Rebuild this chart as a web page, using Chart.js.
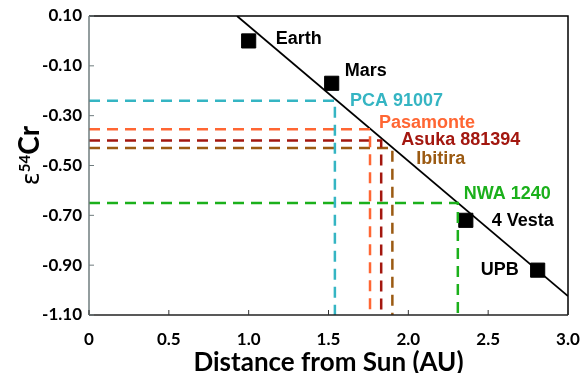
<!DOCTYPE html>
<html>
<head>
<meta charset="utf-8">
<script src="https://cdn.jsdelivr.net/npm/chart.js@4"></script>
<style>
  html, body { margin: 0; padding: 0; background: #fff; }
  #wrap { width: 586px; height: 373px; }
</style>
</head>
<body>
<div id="wrap"><canvas id="chart" width="586" height="373"></canvas></div>
<script>
// planets / asteroid bodies (black squares)
const bodyNames = ['Earth', 'Mars', '4 Vesta', 'UPB'];
const bodyDist = [1.0, 1.52, 2.36, 2.81];
const bodyEps = [0.0, -0.17, -0.72, -0.92];

// meteorites (dashed guides)
const metNames = ['PCA 91007', 'Pasamonte', 'Asuka 881394', 'Ibitira', 'NWA 1240'];
const metDist = [1.54, 1.76, 1.83, 1.90, 2.31];
const metEps = [-0.24, -0.355, -0.40, -0.43, -0.65];
const metColors = ['#35B5C3', '#FF6633', '#A3170F', '#9B5A12', '#1BB01B'];

// fitted line end points
const fitDist = [0.927, 3.0];
const fitEps = [0.10, -1.024];

const xTicks = [0, 0.5, 1.0, 1.5, 2.0, 2.5, 3.0];
const xTickLabels = ['0', '0.5', '1.0', '1.5', '2.0', '2.5', '3.0'];
const yTicks = [0.10, -0.10, -0.30, -0.50, -0.70, -0.90, -1.10];
const yTickLabels = ['0.10', '-0.10', '-0.30', '-0.50', '-0.70', '-0.90', '-1.10'];

// label placement relative to the mark, in px
const bodyLabelOffset = [[27, -2, 'left'], [13, -12, 'left'], [26, 1, 'left'], [-19, 0, 'right']];
const metLabelOffset = [[15, 0], [9, -6], [20, -1], [24, 11], [6, -9]];

const datasets = [];

metNames.forEach((name, i) => {
    datasets.push({
        label: name,
        data: [{x: 0, y: metEps[i]}, {x: metDist[i], y: metEps[i]}, {x: metDist[i], y: -1.10}],
        borderColor: metColors[i],
        borderWidth: 2.5,
        borderDash: [11, 7],
        pointRadius: 0,
        fill: false
    });
});

datasets.push({
    label: 'fit',
    data: fitDist.map((d, i) => ({x: d, y: fitEps[i]})),
    borderColor: '#000',
    borderWidth: 1.8,
    pointRadius: 0,
    fill: false
});

datasets.push({
    label: 'bodies',
    data: bodyDist.map((d, i) => ({x: d, y: bodyEps[i]})),
    showLine: false,
    pointStyle: 'rect',
    pointRadius: 10,
    pointBackgroundColor: '#000',
    pointBorderColor: '#000'
});

const labelFont = 'bold 18px "Liberation Sans", Arial, sans-serif';

const decorPlugin = {
    id: 'decor',
    afterDatasetsDraw(chart) {
        const ctx = chart.ctx;
        const xs = chart.scales.x, ys = chart.scales.y;
        const a = chart.chartArea;
        ctx.save();

        // frame
        ctx.lineWidth = 1.5;
        ctx.strokeStyle = '#000';
        ctx.beginPath();
        ctx.moveTo(a.left, a.top);
        ctx.lineTo(a.right, a.top);
        ctx.lineTo(a.right, a.bottom);
        ctx.stroke();
        ctx.strokeStyle = '#222';
        ctx.beginPath();
        ctx.moveTo(a.left, a.bottom);
        ctx.lineTo(a.right, a.bottom);
        ctx.stroke();
        ctx.strokeStyle = '#6f7c7e';
        ctx.beginPath();
        ctx.moveTo(a.left, a.top);
        ctx.lineTo(a.left, a.bottom);
        ctx.stroke();

        // inward tick marks
        ctx.lineWidth = 1;
        ctx.strokeStyle = '#333';
        xTicks.forEach(v => {
            const px = xs.getPixelForValue(v);
            ctx.beginPath();
            ctx.moveTo(px, a.bottom);
            ctx.lineTo(px, a.bottom - 5);
            ctx.stroke();
        });
        ctx.strokeStyle = '#6f7c7e';
        yTicks.forEach(v => {
            const py = ys.getPixelForValue(v);
            ctx.beginPath();
            ctx.moveTo(a.left, py);
            ctx.lineTo(a.left + 5, py);
            ctx.stroke();
        });

        // labels
        ctx.font = labelFont;
        ctx.textBaseline = 'middle';
        bodyNames.forEach((name, i) => {
            const o = bodyLabelOffset[i];
            ctx.fillStyle = '#000';
            ctx.textAlign = o[2];
            ctx.fillText(name, xs.getPixelForValue(bodyDist[i]) + o[0], ys.getPixelForValue(bodyEps[i]) + o[1]);
        });
        ctx.textAlign = 'left';
        metNames.forEach((name, i) => {
            const o = metLabelOffset[i];
            ctx.fillStyle = metColors[i];
            ctx.fillText(name, xs.getPixelForValue(metDist[i]) + o[0], ys.getPixelForValue(metEps[i]) + o[1]);
        });

        // y axis title: epsilon 54 Cr, rotated
        ctx.translate(30, (a.top + a.bottom) / 2 - 10);
        ctx.rotate(-Math.PI / 2);
        ctx.fillStyle = '#000';
        ctx.textAlign = 'left';
        ctx.textBaseline = 'alphabetic';
        const parts = [
            ['ε', '24px "DejaVu Sans", sans-serif', 0],
            ['54', 'bold 15px Lato, sans-serif', -9],
            ['Cr', 'bold 28px Lato, sans-serif', 0]
        ];
        let total = 0;
        parts.forEach(p => { ctx.font = p[1]; total += ctx.measureText(p[0]).width; });
        let cx = -total / 2;
        parts.forEach(p => {
            ctx.font = p[1];
            ctx.fillText(p[0], cx, 9 + p[2]);
            cx += ctx.measureText(p[0]).width;
        });
        ctx.restore();
    }
};

new Chart(document.getElementById('chart'), {
    type: 'line',
    data: { datasets: datasets },
    options: {
        responsive: false,
        animation: false,
        events: [],
        layout: { padding: { top: 16, right: 18, left: 0, bottom: 0 } },
        plugins: { legend: { display: false }, tooltip: { enabled: false } },
        scales: {
            x: {
                type: 'linear',
                min: 0,
                max: 3.0,
                afterFit: s => { s.height = 58; s.paddingLeft = 0; s.paddingRight = 0; },
                afterBuildTicks: s => { s.ticks = xTicks.map(v => ({value: v})); },
                grid: { display: false, drawTicks: false },
                border: { display: false },
                ticks: {
                    padding: 14,
                    color: '#000',
                    font: { family: 'Lato', weight: 'bold', size: 17 },
                    maxRotation: 0,
                    callback: v => xTickLabels[xTicks.indexOf(v)]
                },
                title: {
                    display: true,
                    text: 'Distance from Sun (AU)',
                    color: '#000',
                    font: { family: 'Lato', weight: 'bold', size: 26 },
                    padding: { top: 0, bottom: -5 }
                }
            },
            y: {
                type: 'linear',
                min: -1.10,
                max: 0.10,
                afterFit: s => { s.width = 89; s.paddingTop = 0; s.paddingBottom = 0; },
                afterBuildTicks: s => { s.ticks = yTicks.map(v => ({value: v})); },
                grid: { display: false, drawTicks: false },
                border: { display: false },
                ticks: {
                    padding: 7,
                    color: '#000',
                    font: { family: 'Lato', weight: 'bold', size: 17 },
                    callback: v => yTickLabels[yTicks.indexOf(v)]
                }
            }
        }
    },
    plugins: [decorPlugin]
});
</script>
</body>
</html>
